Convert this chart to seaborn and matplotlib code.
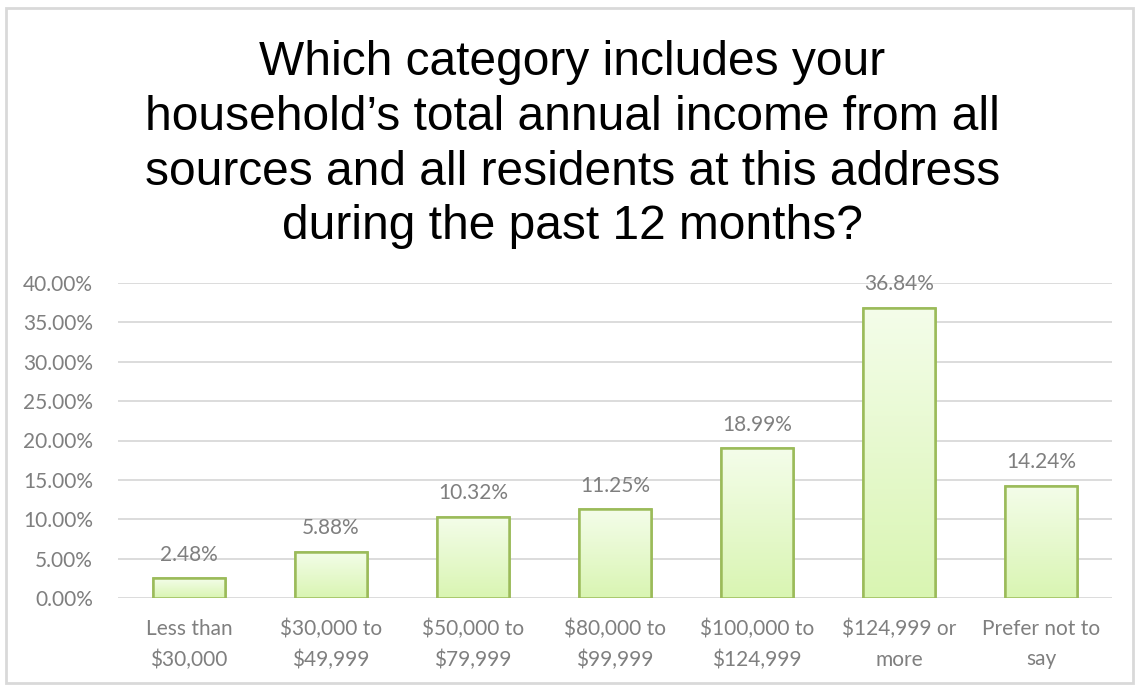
import numpy as np
import matplotlib
matplotlib.use("Agg")
import matplotlib.pyplot as plt
import seaborn as sns
from matplotlib.patches import Rectangle
from matplotlib.ticker import FuncFormatter

# data
categories = ["Less than\n$30,000", "$30,000 to\n$49,999", "$50,000 to\n$79,999",
              "$80,000 to\n$99,999", "$100,000 to\n$124,999", "$124,999 or\nmore",
              "Prefer not to\nsay"]
shares = [2.48, 5.88, 10.32, 11.25, 18.99, 36.84, 14.24]
yticks = [0, 5, 10, 15, 20, 25, 30, 35, 40]

title = ("Which category includes your\nhousehold\u2019s total annual income from all\n"
         "sources and all residents at this address\nduring the past 12 months?")

sns.set_theme(style="white")
plt.rcParams["font.family"] = ["Lato", "DejaVu Sans"]

fig = plt.figure(figsize=(11.4, 6.91), dpi=100)
ax = fig.add_axes([118 / 1140, 1 - 598 / 691, (1112 - 118) / 1140, (598 - 283) / 691])

sns.barplot(x=categories, y=shares, ax=ax, width=0.51, color="#e4f7cc",
            edgecolor="#9bbb59", linewidth=1.8, zorder=3)

# vertical gradient fill inside each bar
grad = np.linspace(0, 1, 256).reshape(-1, 1)
cmap = matplotlib.colors.LinearSegmentedColormap.from_list("g", ["#d9f5b2", "#f4fdea"])
for p in ax.patches:
    x0, y0 = p.get_x(), p.get_y()
    w, h = p.get_width(), p.get_height()
    im = ax.imshow(grad, extent=[x0, x0 + w, y0, y0 + h], origin="lower",
                   cmap=cmap, aspect="auto", zorder=3.5)
    im.set_clip_path(p)
    ax.add_patch(Rectangle((x0, y0), w, h, fill=False, edgecolor="#9bbb59",
                           linewidth=1.8, zorder=4))

for i, v in enumerate(shares):
    ax.text(i, v + 1.7, f"{v:.2f}%", ha="center", va="bottom", fontsize=15,
            color="#7f7f7f", zorder=5)

ax.set_xlim(-0.5, len(categories) - 0.5)
ax.set_ylim(0, 40)
ax.set_yticks(yticks)
ax.yaxis.set_major_formatter(FuncFormatter(lambda v, _: f"{v:.2f}%"))
ax.grid(axis="y", color="#d9d9d9", linewidth=1.3, zorder=0)
ax.set_axisbelow(True)
for s in ax.spines.values():
    s.set_visible(False)
ax.tick_params(axis="both", length=0, labelsize=15, colors="#7f7f7f")
ax.tick_params(axis="x", pad=15)
ax.tick_params(axis="y", pad=18)
for lbl in ax.get_xticklabels():
    lbl.set_linespacing(1.65)
ax.set_ylabel("")

fig.text(0.502, 1 - 40 / 691, title, ha="center", va="top", fontsize=34.5,
         family=["Liberation Sans", "DejaVu Sans"], color="#000000", linespacing=1.28)

# outer chart frame
fig.add_artist(Rectangle((6 / 1140, 8 / 691), 1127 / 1140, 675 / 691, fill=False,
                         edgecolor="#d9d9d9", linewidth=2, transform=fig.transFigure))

fig.savefig("out.png", dpi=100, facecolor="white")
